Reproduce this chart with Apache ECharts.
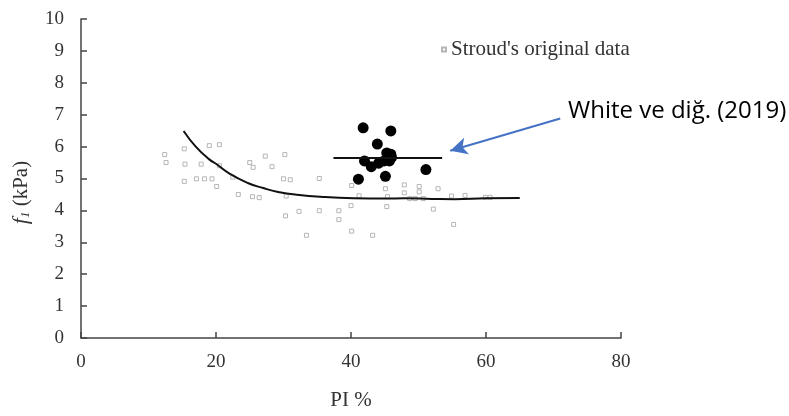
<!DOCTYPE html>
<html>
<head>
<meta charset="utf-8">
<script src="https://cdn.jsdelivr.net/npm/echarts@6/dist/echarts.min.js"></script>
<style>
  html, body { margin: 0; padding: 0; background: #fff; }
  #chart { width: 789px; height: 416px; }
</style>
</head>
<body>
<div id="chart"></div>
<script>
  // Stroud's original data (PI %, f1 kPa)
  const stroudData = [
    [12.4, 5.75], [12.6, 5.5], [15.3, 5.93], [15.4, 5.45], [15.3, 4.91],
    [17.1, 4.99], [18.3, 4.99], [19.4, 4.99], [17.8, 5.45], [19.0, 6.03],
    [20.5, 6.06], [20.1, 4.75], [22.5, 5.04], [20.5, 5.4], [23.3, 4.5],
    [25.0, 5.5], [25.5, 5.35], [25.4, 4.43], [26.4, 4.4], [27.3, 5.7],
    [28.3, 5.37], [30.2, 5.75], [30.0, 4.99], [31.0, 4.96], [30.4, 4.45],
    [30.3, 3.83], [32.3, 3.97], [33.4, 3.22], [35.3, 5.0], [35.3, 3.99],
    [38.2, 3.99], [38.2, 3.71], [40.1, 4.78], [41.2, 4.46], [40.0, 4.15],
    [40.1, 3.35], [43.2, 3.22], [45.1, 4.68], [45.3, 4.12], [45.4, 4.43],
    [47.9, 4.8], [47.9, 4.55], [48.7, 4.37], [49.5, 4.37], [50.7, 4.37],
    [50.1, 4.75], [50.1, 4.58], [52.9, 4.68], [52.2, 4.04], [54.9, 4.45],
    [56.9, 4.47], [55.2, 3.56], [59.9, 4.41], [60.6, 4.41]
  ];

  // White et al. (2019) measurements
  const whiteData = [
    [41.8, 6.59], [45.9, 6.49], [43.9, 6.08], [45.3, 5.8], [45.9, 5.76],
    [42.0, 5.55], [43.0, 5.37], [44.1, 5.48], [44.9, 5.55], [45.7, 5.55],
    [46.0, 5.66], [41.1, 4.98], [45.1, 5.07], [51.1, 5.28]
  ];

  // Stroud trend curve
  const stroudCurve = [
    [15.2, 6.49], [17, 6.0], [19, 5.6], [20.2, 5.43], [22, 5.15], [24.7, 4.86],
    [27, 4.7], [29.2, 4.58], [32, 4.49], [35.9, 4.42], [40.4, 4.38],
    [45, 4.37], [47.9, 4.38], [52, 4.36], [55.3, 4.35], [60, 4.38], [65, 4.39]
  ];

  // Mean line of White et al. data
  const whiteMean = [[37.4, 5.64], [53.5, 5.64]];

  // Arrow pointing at the White et al. group
  const arrowFrom = [71.0, 6.88];
  const arrowTo = [54.7, 5.87];

  const xTicks = { min: 0, max: 80, interval: 20 };
  const yTicks = { min: 0, max: 10, interval: 1 };

  const serif = 'Liberation Serif';
  const chart = echarts.init(document.getElementById('chart'));

  chart.setOption({
    animation: false,
    grid: { left: 81, right: 168, top: 19, bottom: 72 },
    legend: {
      data: [{ name: "Stroud's original data", icon: 'rect' }],
      left: 436,
      top: 34,
      itemWidth: 4,
      itemHeight: 4,
      itemGap: 8,
      textStyle: { fontFamily: serif, fontSize: 21, color: '#333' }
    },
    xAxis: {
      type: 'value',
      min: xTicks.min,
      max: xTicks.max,
      interval: xTicks.interval,
      name: 'PI %',
      nameLocation: 'middle',
      nameGap: 52,
      nameTextStyle: { fontFamily: serif, fontSize: 21, color: '#333' },
      splitLine: { show: false },
      axisLine: { lineStyle: { color: '#444', width: 1.5 } },
      axisTick: { inside: true, length: 6, lineStyle: { color: '#444', width: 1.5 } },
      axisLabel: { fontFamily: serif, fontSize: 19, color: '#333', margin: 15 }
    },
    yAxis: {
      type: 'value',
      min: yTicks.min,
      max: yTicks.max,
      interval: yTicks.interval,
      name: '{f|f}{s|1} (kPa)',
      nameLocation: 'middle',
      nameGap: 49,
      nameRotate: 90,
      nameTextStyle: {
        fontFamily: serif, fontSize: 21, color: '#333',
        padding: [0, 0, 0, -28],
        rich: {
          f: { fontFamily: serif, fontSize: 22, fontStyle: 'italic', color: '#333' },
          s: { fontFamily: serif, fontSize: 13, fontStyle: 'italic', color: '#333', verticalAlign: 'bottom', padding: [9, 0, 0, 0] }
        }
      },
      splitLine: { show: false },
      axisLine: { show: true, lineStyle: { color: '#444', width: 1.5 } },
      axisTick: { show: true, inside: true, length: 6, lineStyle: { color: '#444', width: 1.5 } },
      axisLabel: { fontFamily: serif, fontSize: 19, color: '#333', margin: 17 }
    },
    graphic: [
      {
        type: 'text',
        left: 568,
        top: 99,
        style: { text: 'White ve diğ. (2019)', font: '24px "Open Sans", sans-serif', fill: '#000' }
      }
    ],
    series: [
      {
        name: "Stroud's original data",
        type: 'scatter',
        data: stroudData,
        symbol: 'rect',
        symbolSize: 4,
        itemStyle: { color: '#fff', borderColor: '#b5b5b5', borderWidth: 1, opacity: 1 }
      },
      {
        name: 'Stroud curve',
        type: 'line',
        data: stroudCurve,
        smooth: true,
        symbol: 'none',
        lineStyle: { color: '#111', width: 2 }
      },
      {
        name: 'White mean',
        type: 'line',
        data: whiteMean,
        symbol: 'none',
        lineStyle: { color: '#111', width: 2 },
        markLine: {
          silent: true,
          symbol: ['arrow', 'none'],
          symbolSize: [13, 17],
          label: { show: false },
          lineStyle: { color: '#4472C4', width: 2, type: 'solid' },
          data: [[{ coord: arrowTo }, { coord: arrowFrom }]]
        }
      },
      {
        name: 'White ve diğ. (2019)',
        type: 'scatter',
        data: whiteData,
        symbol: 'circle',
        symbolSize: 11,
        itemStyle: { color: '#000', opacity: 1 }
      }
    ]
  });
</script>
</body>
</html>
